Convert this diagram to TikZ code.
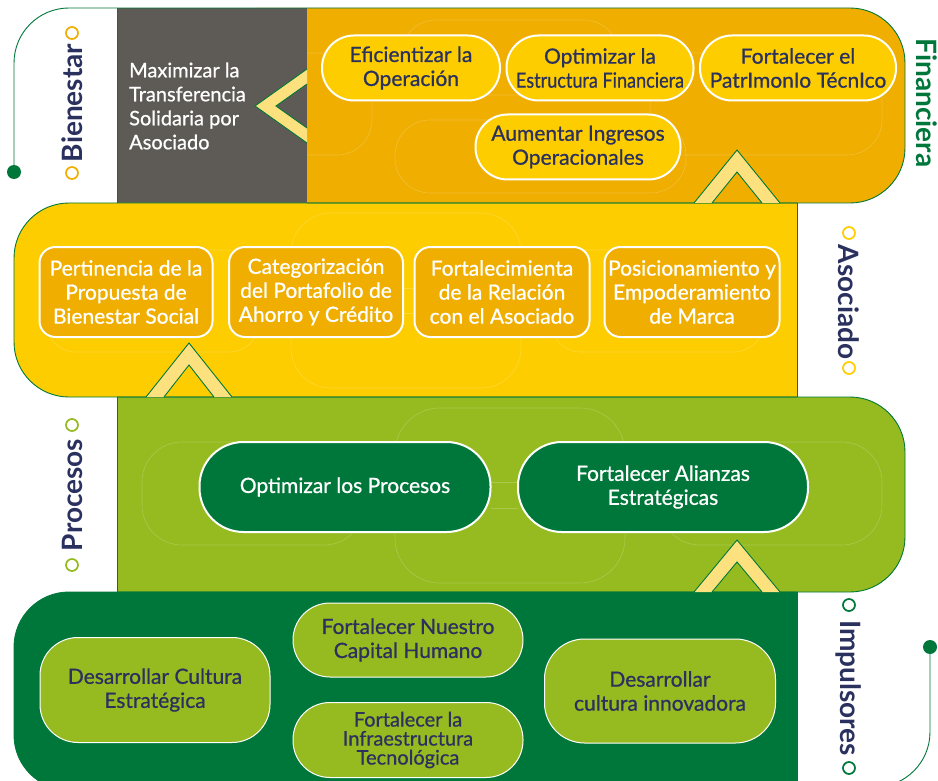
\documentclass[tikz,border=0pt]{standalone}
\usepackage{fontspec}
\setmainfont{Lato}
\newfontfamily\pf{Lato}[FakeBold=0.8]
\definecolor{orng}{HTML}{EFAE00}
\definecolor{yelc}{HTML}{FDCD00}
\definecolor{greyc}{HTML}{5E5A55}
\definecolor{limec}{HTML}{95BB20}
\definecolor{dkg}{HTML}{00773A}
\definecolor{navy}{HTML}{2B315E}
\definecolor{chevc}{HTML}{FCE17E}
\tikzset{
  gline/.style={draw=dkg, line width=0.9pt},
  deco/.style={draw=white, draw opacity=0.2, line width=0.6pt},
  chevfill/.style={fill=chevc},
  pilltxt/.style={font=\pf\fontsize{21}{24}\selectfont, align=center, inner sep=0pt},
  pillY/.style={pilltxt, rectangle, draw=white, line width=2pt, fill=yelc, text=navy, minimum height=65pt, rounded corners=32pt},
  pillO/.style={pilltxt, rectangle, draw=white, line width=2pt, fill=orng, text=white, minimum height=90pt, rounded corners=16pt},
  pillG/.style={pilltxt, rectangle, draw=white, line width=2pt, fill=dkg, text=white, minimum height=90pt, rounded corners=44pt},
  pillL/.style={pilltxt, rectangle, draw=white, line width=1pt, fill=limec, text=navy},
  lab/.style={font=\bfseries\fontsize{28}{30}\selectfont, inner sep=0pt},
  ring/.style={circle, draw=#1, line width=1.7pt, minimum size=12pt, inner sep=0pt},
  dotn/.style={circle, fill=dkg, minimum size=14pt, inner sep=0pt}
}
\begin{document}
\begin{tikzpicture}[x=1pt,y=-1pt]
\useasboundingbox (0,0) rectangle (938,781);
\clip (0,0) rectangle (938,781);

% ---------- band fills ----------
\fill[orng, rounded corners=55pt] (200,8) rectangle (905,203);
\fill[greyc] (117,8) rectangle (307,203);
\begin{scope}
  \clip (0,0) rectangle (797,781);
  \fill[yelc, rounded corners=55pt] (14,203) rectangle (900,397);
\end{scope}
\begin{scope}
  \clip (117,0) rectangle (938,781);
  \fill[limec, rounded corners=55pt] (50,397) rectangle (905,592);
\end{scope}
\begin{scope}
  \clip (0,0) rectangle (797,781);
  \fill[dkg, rounded corners=55pt] (14,592) rectangle (900,790);
\end{scope}

% ---------- faint decorations ----------
\begin{scope}
  \clip (307,8) rectangle (905,203);
  \draw[deco, rounded corners=35pt] (401,20) rectangle (619,95);
  \draw[deco, rounded corners=35pt] (395,120) rectangle (686,193);
  \draw[deco, rounded corners=35pt] (250,53) rectangle (372,155);
  \draw[deco, rounded corners=35pt] (650,53) rectangle (882,155);
\end{scope}
\begin{scope}
  \clip (14,203) rectangle (797,397);
  \draw[deco, rounded corners=40pt] (291,213) rectangle (521,388);
  \draw[deco, rounded corners=30pt] (46,250) rectangle (259,352);
  \draw[deco, rounded corners=30pt] (551,250) rectangle (764,352);
  \draw[deco] (403,288) -- (415,288) (403,313) -- (415,313);
\end{scope}
\begin{scope}
  \clip (117,397) rectangle (905,592);
  \draw[deco, rounded corners=40pt] (142,442) rectangle (364,545);
  \draw[deco, rounded corners=45pt] (395,408) rectangle (625,583);
  \draw[deco, rounded corners=40pt] (660,442) rectangle (882,545);
  \draw[deco] (491,482) -- (518,482) (491,508) -- (518,508);
\end{scope}

% ---------- outlines ----------
\node[dotn] (d1) at (14,172) {};
\node[dotn] (d2) at (930,647) {};
\draw[gline, rounded corners=55pt] (d1.center) -- (14,8) -- (905,8) -- (905,203) -- (307,203);
\draw[gline] (117,8) -- (117,203);
\draw[gline, rounded corners=55pt] (797,203) -- (14,203) -- (14,397) -- (797,397);
\draw[gline] (797,203) -- (797,397);
\draw[gline, rounded corners=55pt] (117,397) -- (905,397) -- (905,592) -- (117,592);
\draw[gline] (117,397) -- (117,592);
\draw[gline, rounded corners=55pt] (797,592) -- (14,592) -- (14,790) -- (797,790);
\draw[gline] (797,592) -- (797,781);
\draw[gline, rounded corners=55pt] (d2.center) -- (930,787) -- (850,787);

% ---------- chevrons ----------
\fill[chevfill] (307,69) -- (255,106) -- (307,143) -- (307,128) -- (276,106) -- (307,84) -- cycle;
\draw[gline] (307,69) -- (255,106) -- (307,143) (307,128) -- (276,106) -- (307,84);
\fill[chevfill] (694,203) -- (737,150) -- (780,203) -- (762,203) -- (737,172) -- (712,203) -- cycle;
\draw[gline] (694,203) -- (737,150) -- (780,203) (762,203) -- (737,172) -- (712,203);
\fill[chevfill] (146,397) -- (189,343) -- (232,397) -- (214,397) -- (189,365) -- (164,397) -- cycle;
\draw[gline] (146,397) -- (189,343) -- (232,397) (214,397) -- (189,365) -- (164,397);
\fill[chevfill] (694,592) -- (737,540) -- (780,592) -- (762,592) -- (737,562) -- (712,592) -- cycle;
\draw[gline] (694,592) -- (737,540) -- (780,592) (762,592) -- (737,562) -- (712,592);

% ---------- band 1 ----------
\node[pilltxt, font=\pf\fontsize{20}{24}\selectfont, anchor=west, align=left, text=white] (mx) at (129,106) {Maximizar la\\Transferencia\\Solidaria por\\Asociado};
\node[pillY, minimum width=178pt] (p11) at (411,68) {Eficientizar la\\Operación};
\node[pillY, minimum width=187pt] (p12) at (600,68) {Optimizar la\\\scalebox{0.86}[1]{Estructura Financiera}};
\node[pillY, minimum width=196pt] (p13) at (798,68) {Fortalecer el\\PatrImonIo TécnIco};
\node[pillY, minimum width=205pt] (p14) at (578,147) {Aumentar Ingresos\\Operacionales};

% ---------- band 2 ----------
\node[pillO, minimum width=173pt] (p21) at (126,292) {Pertinencia de la\\Propuesta de\\Bienestar Social};
\node[pillO, minimum width=174pt] (p22) at (316,292) {Categorización\\del Portafolio de\\Ahorro y Crédito};
\node[pillO, minimum width=175pt] (p23) at (502,292) {Fortalecimienta\\de la Relación\\con el Asociado};
\node[pillO, minimum width=175pt] (p24) at (692,292) {Posicionamiento y\\Empoderamiento\\de Marca};

% ---------- band 3 ----------
\node[pillG, minimum width=291pt] (p31) at (345,487) {Optimizar los Procesos};
\node[pillG, minimum width=290pt] (p32) at (663,487) {Fortalecer Alianzas\\Estratégicas};

% ---------- band 4 ----------
\node[pillL, minimum width=230pt, minimum height=105pt, rounded corners=38pt] (p41) at (155,690) {Desarrollar Cultura\\Estratégica};
\node[pillL, minimum width=230pt, minimum height=74pt, rounded corners=37pt] (p42) at (408,640) {Fortalecer Nuestro\\Capital Humano};
\node[pillL, minimum width=230pt, minimum height=75pt, rounded corners=37pt, font=\pf\fontsize{20}{19}\selectfont] (p43) at (408,740) {Fortalecer la\\Infraestructura\\Tecnológica};
\node[pillL, minimum width=231pt, minimum height=104pt, rounded corners=40pt] (p44) at (660,691) {Desarrollar\\cultura innovadora};

% ---------- side labels ----------
\node[lab, rotate=90, text=navy] (lbi) at (72,103) {Bienestar};
\node[ring=orng] (r1a) at (72,33) {};
\node[ring=orng] (r1b) at (72,173) {};
\node[lab, rotate=-90, text=dkg] (lfi) at (927,103) {Financiera};
\node[lab, rotate=-90, text=navy] (las) at (849,302) {Asociado};
\node[ring=yelc] (r2a) at (849,233) {};
\node[ring=yelc] (r2b) at (849,368) {};
\node[lab, rotate=90, text=navy] (lpr) at (72,495) {Procesos};
\node[ring=limec] (r3a) at (72,425) {};
\node[ring=limec] (r3b) at (72,565) {};
\node[lab, rotate=-90, text=navy] (lim) at (849,688) {Impulsores};
\node[ring=dkg] (r4a) at (849,605) {};
\node[ring=dkg] (r4b) at (849,768) {};
\end{tikzpicture}
\end{document}
